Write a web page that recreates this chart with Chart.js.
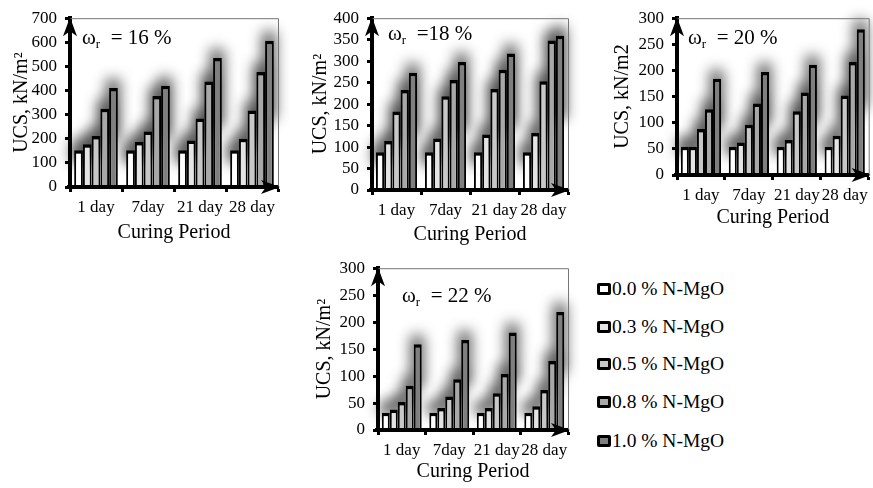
<!DOCTYPE html>
<html>
<head>
<meta charset="utf-8">
<title>UCS vs Curing Period</title>
<script src="https://cdn.jsdelivr.net/npm/chart.js"></script>
<style>
  body { margin: 0; background: #fff; width: 873px; height: 488px; position: relative; overflow: hidden;
         font-family: 'Liberation Serif', 'Times New Roman', serif; }
  canvas { position: absolute; }
  .item { position: absolute; left: 597px; white-space: nowrap; font-size: 19.5px; line-height: 20px;
          display: flex; align-items: center; color: #000; }
  .box { width: 8px; height: 6px; border: 3.5px solid #000; border-radius: 2px; margin-right: 1px; }
</style>
</head>
<body>
<canvas id="c16"></canvas>
<canvas id="c18"></canvas>
<canvas id="c20"></canvas>
<canvas id="c22"></canvas>
<div id="legend"></div>

<script>
// categories and series
const periods = ['1 day', '7day', '21 day', '28 day'];
const mgoLabels = ['0.0 % N-MgO', '0.3 % N-MgO', '0.5 % N-MgO', '0.8 % N-MgO', '1.0 % N-MgO'];
const mgoColors = ['#ffffff', '#e4e4e4', '#c8c8c8', '#a8a8a8', '#7f7f7f'];

// UCS (kN/m2), one row per N-MgO content, one column per curing period
const ucs16 = [
  [152, 152, 152, 152],
  [177, 187, 193, 200],
  [211, 230, 284, 317],
  [325, 377, 437, 477],
  [411, 420, 535, 607]
];
const ucs18 = [
  [88, 88, 88, 88],
  [114, 120, 129, 133],
  [183, 218, 235, 253],
  [233, 256, 280, 348],
  [273, 298, 318, 359]
];
const ucs20 = [
  [54, 54, 54, 54],
  [54, 62, 67, 75],
  [88, 96, 122, 152],
  [126, 137, 158, 216],
  [184, 197, 211, 279]
];
const ucs22 = [
  [32, 32, 32, 32],
  [38, 41, 41, 44],
  [52, 62, 68, 74],
  [82, 94, 104, 128],
  [159, 167, 181, 219]
];
const yMax = [700, 400, 300, 300];
const yStep = [100, 50, 50, 50];
const yTitles = ['UCS, kN/m\u00B2', 'UCS, kN/m\u00B2', 'UCS, kN/m2', 'UCS, kN/m\u00B2'];

const FONT = "'Liberation Serif', 'Times New Roman', serif";

// where each panel sits on the page
const panels = [
  { id: 'c16', data: ucs16, left: 0,   top: 0,   axisX: 70,  plotTop: 12,  plotRight: 278, axisY: 187, bottom: 247, xTitleOff: 46, yTitleOff: 48, label: { dx: 12, dy: 20, eq: '  = 16 %' } },
  { id: 'c18', data: ucs18, left: 302, top: 0,   axisX: 372, plotTop: 12,  plotRight: 568, axisY: 190, bottom: 250, xTitleOff: 45, yTitleOff: 51, label: { dx: 16, dy: 16, eq: '  =18 %' } },
  { id: 'c20', data: ucs20, left: 607, top: 0,   axisX: 677, plotTop: 15,  plotRight: 870, axisY: 175, bottom: 235, xTitleOff: 43, yTitleOff: 54, label: { dx: 11, dy: 20, eq: '  = 20 %' } },
  { id: 'c22', data: ucs22, left: 308, top: 250, axisX: 378, plotTop: 265, plotRight: 568, axisY: 430, bottom: 488, xTitleOff: 42, yTitleOff: 53, label: { dx: 24, dy: 28, eq: '  = 22 %' } }
];

const decor = {
  id: 'decor',
  beforeDatasetsDraw(chart) {
    // soft glow above the bar tops
    const ctx = chart.ctx;
    ctx.save();
    ctx.filter = 'blur(7px)';
    ctx.fillStyle = 'rgba(0,0,0,0.65)';
    chart.data.datasets.forEach((ds, i) => {
      chart.getDatasetMeta(i).data.forEach(bar => {
        const w = bar.width;
        const h = bar.base - bar.y;
        ctx.fillRect(bar.x - w / 2 - 3, bar.y - 9, w + 5, h * 0.6);
      });
    });
    ctx.restore();
  },
  afterDraw(chart, args, opts) {
    const ctx = chart.ctx;
    const a = chart.chartArea;
    ctx.save();
    // thin frame top / right
    ctx.strokeStyle = '#777';
    ctx.lineWidth = 1;
    ctx.beginPath();
    ctx.moveTo(a.left, a.top + 0.5);
    ctx.lineTo(a.right + 0.5, a.top + 0.5);
    ctx.lineTo(a.right + 0.5, a.bottom);
    ctx.stroke();
    // axes with arrow heads
    ctx.strokeStyle = '#000';
    ctx.fillStyle = '#000';
    ctx.lineWidth = 4;
    ctx.beginPath();
    ctx.moveTo(a.left - 3, a.bottom);
    ctx.lineTo(a.right - 8, a.bottom);
    ctx.moveTo(a.left, a.bottom);
    ctx.lineTo(a.left, a.top + 8);
    ctx.stroke();
    ctx.beginPath();
    ctx.moveTo(a.left, a.top - 1);
    ctx.lineTo(a.left - 7, a.top + 18);
    ctx.lineTo(a.left, a.top + 13);
    ctx.lineTo(a.left + 7, a.top + 18);
    ctx.closePath();
    ctx.fill();
    ctx.beginPath();
    ctx.moveTo(a.right + 2, a.bottom);
    ctx.lineTo(a.right - 17, a.bottom - 7);
    ctx.lineTo(a.right - 12, a.bottom);
    ctx.lineTo(a.right - 17, a.bottom + 7);
    ctx.closePath();
    ctx.fill();
    // moisture content label
    const x = a.left + opts.dx, y = a.top + opts.dy;
    ctx.textBaseline = 'middle';
    ctx.textAlign = 'left';
    ctx.font = '21px ' + FONT;
    ctx.fillText('\u03C9', x, y);
    const w1 = ctx.measureText('\u03C9').width;
    ctx.font = '13px ' + FONT;
    ctx.fillText('r', x + w1, y + 6);
    const w2 = ctx.measureText('r').width;
    ctx.font = '21px ' + FONT;
    ctx.fillText(opts.eq, x + w1 + w2, y);
    ctx.restore();
  }
};

panels.forEach((p, k) => {
  const canvas = document.getElementById(p.id);
  const padRight = k === 2 ? 3 : 12;
  const width = p.plotRight + padRight - p.left;
  const height = p.bottom - p.top;
  canvas.width = width;
  canvas.height = height;
  canvas.style.left = p.left + 'px';
  canvas.style.top = p.top + 'px';
  canvas.style.width = width + 'px';
  canvas.style.height = height + 'px';

  const yW = p.axisX - p.left;
  const xH = p.bottom - p.axisY;
  const titleLH = 20 * 1.2;

  new Chart(canvas, {
    type: 'bar',
    data: {
      labels: periods,
      datasets: mgoLabels.map((name, i) => ({
        label: name,
        data: p.data[i],
        backgroundColor: mgoColors[i],
        borderColor: '#000',
        borderWidth: { top: 3.5, left: 2, right: 2, bottom: 0 },
        borderSkipped: false,
        categoryPercentage: 0.84,
        barPercentage: 1.0
      }))
    },
    options: {
      responsive: false,
      animation: false,
      devicePixelRatio: 1,
      layout: { padding: { top: p.plotTop - p.top, right: padRight, left: 0, bottom: 0 } },
      plugins: {
        legend: { display: false },
        tooltip: { enabled: false },
        decor: p.label
      },
      scales: {
        x: {
          grid: { display: true, drawOnChartArea: false, offset: true, color: '#000', tickLength: 5, tickWidth: 3 },
          border: { display: true, color: '#000', width: 4 },
          ticks: { color: '#000', font: { family: FONT, size: 17 }, padding: 5, autoSkip: false, maxRotation: 0, minRotation: 0 },
          title: { display: true, text: 'Curing Period', color: '#000', font: { family: FONT, size: 20 },
                   padding: { top: 0, bottom: xH - p.xTitleOff - titleLH / 2 } },
          afterFit(scale) { scale.height = xH; }
        },
        y: {
          min: 0,
          max: yMax[k],
          ticks: { stepSize: yStep[k], autoSkip: false, color: '#000', font: { family: FONT, size: 17 }, padding: 8 },
          grid: { display: true, drawOnChartArea: false, color: '#000', tickLength: 5, tickWidth: 3 },
          border: { display: true, color: '#000', width: 4 },
          title: { display: true, text: yTitles[k], color: '#000', font: { family: FONT, size: 20 },
                   padding: { top: yW - p.yTitleOff - titleLH / 2, bottom: 0 } },
          afterFit(scale) { scale.width = yW; }
        }
      }
    },
    plugins: [decor]
  });
});

// legend at the right of the lower panel
const legend = document.getElementById('legend');
const legendY = [289, 327, 364, 402, 441];
mgoLabels.forEach((name, i) => {
  const item = document.createElement('div');
  item.className = 'item';
  item.style.top = (legendY[i] - 10) + 'px';
  const box = document.createElement('span');
  box.className = 'box';
  box.style.background = mgoColors[i];
  item.appendChild(box);
  item.appendChild(document.createTextNode(name));
  legend.appendChild(item);
});
</script>
</body>
</html>
